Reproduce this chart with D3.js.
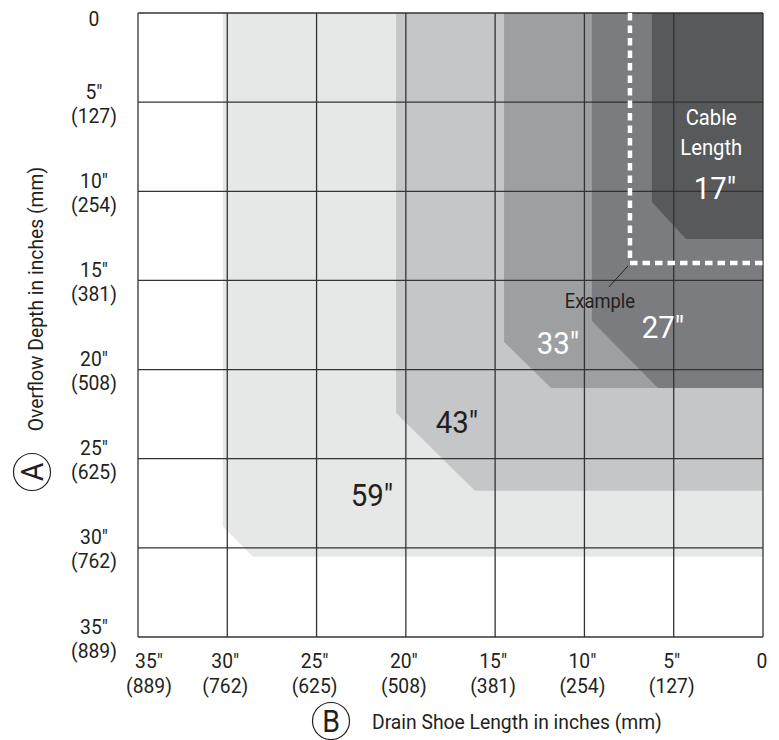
<!DOCTYPE html>
<html>
<head>
<meta charset="utf-8">
<script src="https://cdn.jsdelivr.net/npm/d3@7"></script>
<style>
  body { margin:0; background:#fff; }
  svg text { font-family: "Liberation Sans Narrow", "Roboto", "Liberation Sans", sans-serif; }
</style>
</head>
<body>
<div class="chartWrap"></div>
<script>
// tick values (inches) and their mm labels
var ticks = [35, 30, 25, 20, 15, 10, 5, 0];
var mmLabels = ['889', '762', '625', '508', '381', '254', '127', ''];

// cable length zones: top edge x, where the side bends, chamfer end x, bottom y
var cables = [59, 43, 33, 27, 17];
var zoneEdgeX = [30.25, 20.55, 14.5, 9.58, 6.22];
var zoneBendY = [28.8, 22.43, 18.45, 17.27, 10.6];
var zoneCornerX = [28.56, 16.13, 11.87, 5.88, 4.31];
var zoneBottomY = [30.5, 26.8, 21.03, 21.03, 12.68];
var labelX = [21.9, 17.14, 11.48, 5.6, 2.69];
var labelY = [27.0, 22.9, 18.5, 17.6, 9.8];
var zoneColors = ['#e6e7e7', '#c5c6c8', '#9e9fa1', '#7b7c7f', '#58595b'];
var labelColors = ['#231f20', '#231f20', '#fff', '#fff', '#fff'];

// the worked example
var exampleX = 7.45, exampleY = 14.02;

var margin = {top:13, left:138};
var width = 625, height = 624;
var squeeze = 0.92;   // narrow the font a bit, the original uses a condensed face

var x = d3.scaleLinear().domain([35, 0]).range([0, width]);
var y = d3.scaleLinear().domain([0, 35]).range([0, height]);

var svg = d3.select('.chartWrap').append('svg')
  .attr('width', 779).attr('height', 740);

// text helper
function label(parent, px, py, str, size, color, anchor, rot){
  return parent.append('text')
    .attr('transform', 'translate(' + px + ',' + py + ')' + (rot ? ' rotate(' + rot + ')' : '') + ' scale(' + squeeze + ',1)')
    .attr('dy', '0.36em')
    .attr('text-anchor', anchor || 'middle')
    .attr('fill', color || '#231f20')
    .style('font-size', size + 'px')
    .text(str);
}

var g = svg.append('g')
  .attr('transform', 'translate(' + margin.left + ',' + margin.top + ')');

// zones, biggest first
cables.forEach(function(c, i){
  var pts = [
    [x(zoneEdgeX[i]), y(0)],
    [x(0), y(0)],
    [x(0), y(zoneBottomY[i])],
    [x(zoneCornerX[i]), y(zoneBottomY[i])],
    [x(zoneEdgeX[i]), y(zoneBendY[i])]
  ];
  g.append('path')
    .attr('d', d3.line()(pts) + 'Z')
    .attr('fill', zoneColors[i]);
});

// grid
g.selectAll('.vline').data(ticks).enter().append('line')
  .attr('x1', function(d){ return x(d); }).attr('x2', function(d){ return x(d); })
  .attr('y1', 0).attr('y2', height)
  .attr('stroke', '#333').attr('stroke-width', 1.3);
g.selectAll('.hline').data(ticks).enter().append('line')
  .attr('y1', function(d){ return y(d); }).attr('y2', function(d){ return y(d); })
  .attr('x1', 0).attr('x2', width)
  .attr('stroke', '#333').attr('stroke-width', 1.3);

// example dashed line
g.append('path')
  .attr('d', d3.line()([[x(exampleX), y(0)], [x(exampleX), y(exampleY)], [x(0), y(exampleY)]]))
  .attr('fill', 'none')
  .attr('stroke', '#fff')
  .attr('stroke-width', 4.5)
  .attr('stroke-dasharray', '7.5,5');

g.append('line')
  .attr('x1', x(exampleX) - 2).attr('y1', y(exampleY) + 3)
  .attr('x2', x(exampleX) - 21).attr('y2', y(exampleY) + 24)
  .attr('stroke', '#231f20').attr('stroke-width', 1);

label(g, x(exampleX) - 30, y(exampleY) + 38, 'Example', 20);

// zone labels
cables.forEach(function(c, i){
  label(g, x(labelX[i]), y(labelY[i]), c + '"', 32, labelColors[i]);
});

label(g, x(2.9), y(5.85), 'Cable', 22, '#fff');
label(g, x(2.9), y(7.5), 'Length', 22, '#fff');

// y tick labels
var yl = svg.append('g').attr('transform', 'translate(0,' + margin.top + ')');
ticks.forEach(function(t, i){
  if (t === 0) {
    label(yl, 94, y(0) + 5, '0', 21);
    return;
  }
  label(yl, 94, y(t) - 11, t + '"', 21);
  label(yl, 94, y(t) + 13, '(' + mmLabels[i] + ')', 21);
});

// x tick labels
var xl = svg.append('g').attr('transform', 'translate(' + margin.left + ',0)');
ticks.forEach(function(t, i){
  var cx = x(t) - 2;
  if (t === 35) cx = x(t) + 11;
  if (t === 0) {
    label(xl, x(0) - 1, 660, '0', 21);
    return;
  }
  label(xl, cx, 660, t + '"', 21);
  label(xl, cx, 685, '(' + mmLabels[i] + ')', 21);
});

// axis titles with circled letters
svg.append('circle').attr('cx', 331).attr('cy', 721).attr('r', 18.5)
  .attr('fill', 'none').attr('stroke', '#231f20').attr('stroke-width', 1.2);
label(svg, 331, 721, 'B', 31);
label(svg, 372, 721, 'Drain Shoe Length in inches (mm)', 21, '#231f20', 'start');

svg.append('circle').attr('cx', 32).attr('cy', 472).attr('r', 18.5)
  .attr('fill', 'none').attr('stroke', '#231f20').attr('stroke-width', 1.2);
label(svg, 32, 472, 'A', 31, '#231f20', 'middle', -90);
label(svg, 35, 299, 'Overflow Depth in inches (mm)', 21, '#231f20', 'middle', -90);
</script>
</body>
</html>
